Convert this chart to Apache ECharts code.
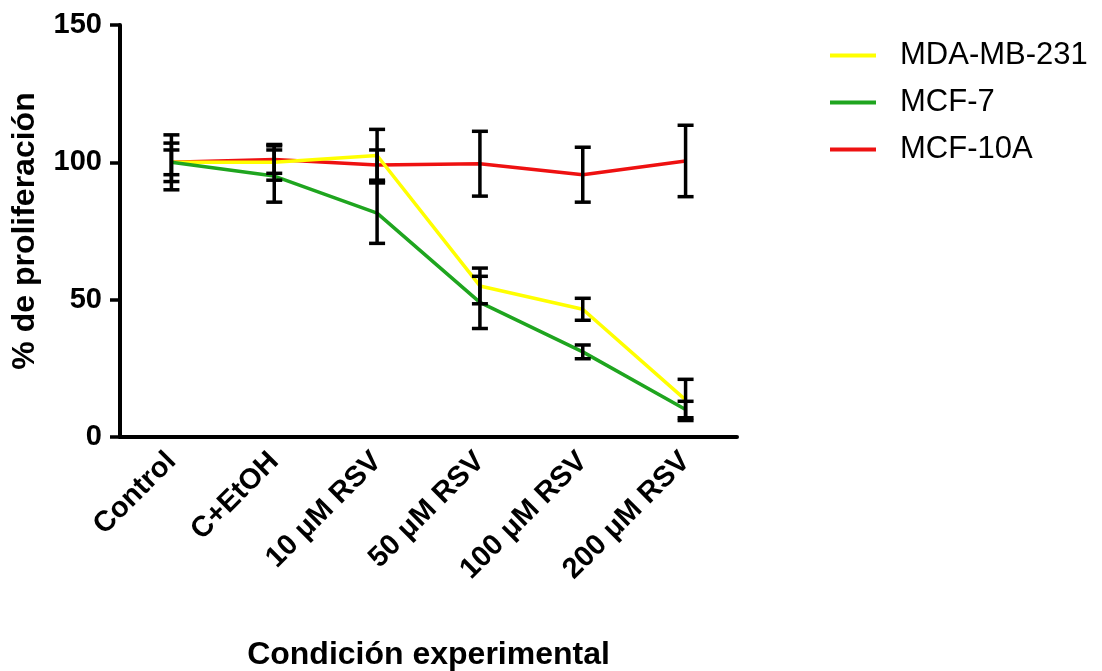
<!DOCTYPE html>
<html>
<head>
<meta charset="utf-8">
<script src="https://cdn.jsdelivr.net/npm/echarts@6/dist/echarts.min.js"></script>
<style>html,body{margin:0;padding:0;background:#fff;overflow:hidden}#c{width:1102px;height:671px}</style>
</head>
<body>
<div id="c"></div>
<script>
const categories = ['Control', 'C+EtOH', '10 μM RSV', '50 μM RSV', '100 μM RSV', '200 μM RSV'];
const seriesNames = ['MDA-MB-231', 'MCF-7', 'MCF-10A'];
const mdaMean = [100, 100, 102.5, 55, 46.5, 13.5];
const mdaErr = [7, 6.5, 9.5, 6.5, 4, 7.5];
const mcf7Mean = [100, 95, 81.5, 49, 31, 10];
const mcf7Err = [4.5, 9.5, 11, 9.5, 2.5, 3];
const mcf10aMean = [100, 101, 99, 99.5, 95.5, 100.5];
const mcf10aErr = [10, 5, 5.5, 11.8, 10, 13];
const yTicks = [0, 50, 100, 150];

const FONT = "'Liberation Sans', Arial, sans-serif";
const colors = ['#ffff00', '#1fa51f', '#ee1111'];
const means = [mdaMean, mcf7Mean, mcf10aMean];
const errs = [mdaErr, mcf7Err, mcf10aErr];

function errRender(params, api) {
  const x = api.value(0), y = api.value(1), e = api.value(2);
  const top = api.coord([x, y + e]);
  const bot = api.coord([x, y - e]);
  const h = 8;
  const style = { stroke: '#000', lineWidth: 3.5 };
  return {
    type: 'group',
    children: [
      { type: 'line', shape: { x1: top[0], y1: top[1], x2: bot[0], y2: bot[1] }, style },
      { type: 'line', shape: { x1: top[0] - h, y1: top[1], x2: top[0] + h, y2: top[1] }, style },
      { type: 'line', shape: { x1: bot[0] - h, y1: bot[1], x2: bot[0] + h, y2: bot[1] }, style }
    ]
  };
}

const series = [];
[2, 0, 1].forEach(i => {
  series.push({
    name: seriesNames[i], type: 'line', data: means[i], symbol: 'none',
    lineStyle: { color: colors[i], width: 3.5 }, itemStyle: { color: colors[i] }, z: 2
  });
});
[0, 1, 2].forEach(i => {
  series.push({
    name: 'err' + i, type: 'custom', renderItem: errRender, z: 5,
    data: means[i].map((m, k) => [k, m, errs[i][k]])
  });
});

const chart = echarts.init(document.getElementById('c'));
chart.setOption({
  animation: false,
  backgroundColor: '#fff',
  textStyle: { fontFamily: FONT },
  grid: { left: 120, right: 365, top: 25, bottom: 234, containLabel: false, outerBoundsMode: 'none' },
  legend: {
    data: seriesNames,
    orient: 'vertical', left: 825, top: 35,
    icon: 'rect', itemWidth: 46, itemHeight: 4, itemGap: 16,
    textStyle: { fontSize: 31, fontFamily: FONT, color: '#000', lineHeight: 31, padding: [0, 0, 0, 19] }
  },
  xAxis: {
    type: 'category', data: categories, boundaryGap: true,
    name: 'Condición experimental', nameLocation: 'middle', nameGap: 202,
    nameTextStyle: { fontSize: 32, fontWeight: 'bold', color: '#000', fontFamily: FONT },
    axisLine: { lineStyle: { color: '#000', width: 4 } },
    axisTick: { alignWithLabel: true, length: 7, lineStyle: { color: '#000', width: 3 } },
    axisLabel: { rotate: 45, margin: 20, fontSize: 29, fontWeight: 'bold', color: '#000', fontFamily: FONT, interval: 0 }
  },
  yAxis: {
    type: 'value', min: yTicks[0], max: yTicks[yTicks.length - 1], interval: 50,
    name: '% de proliferación', nameLocation: 'middle', nameGap: 79, nameRotate: 90,
    nameTextStyle: { fontSize: 32, fontWeight: 'bold', color: '#000', fontFamily: FONT },
    axisLine: { show: true, lineStyle: { color: '#000', width: 4 } },
    axisTick: { show: true, length: 10, lineStyle: { color: '#000', width: 3.5 } },
    axisLabel: { margin: 18, fontSize: 29, fontWeight: 'bold', color: '#000', fontFamily: FONT },
    splitLine: { show: false }
  },
  series
});
</script>
</body>
</html>
